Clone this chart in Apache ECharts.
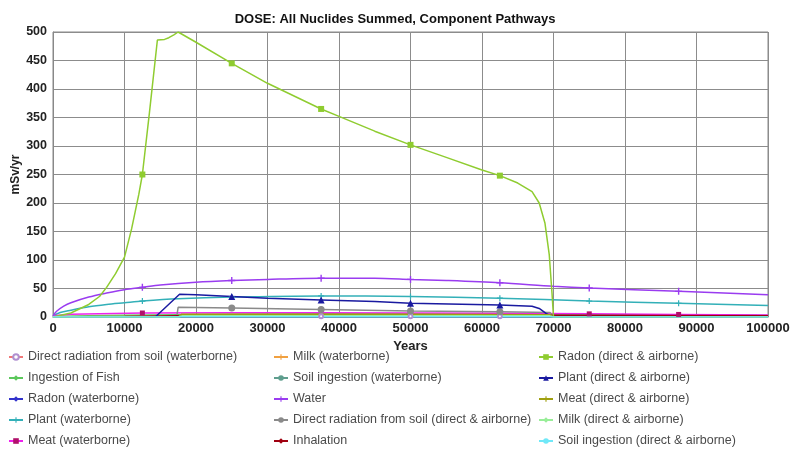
<!DOCTYPE html>
<html>
<head>
<meta charset="utf-8">
<script src="https://cdn.jsdelivr.net/npm/echarts@6/dist/echarts.min.js"></script>
<style>
  html, body { margin: 0; padding: 0; background: #fff; }
  #chart { width: 790px; height: 450px; }
</style>
</head>
<body>
<div id="chart"></div>
<script>
// years / mSv per yr
const drWaterX = [0, 25000, 37500, 50000, 62500, 75000, 100000];
const drWaterY = [0.3, 1, 1.1, 1.2, 1.1, 1, 0.8];
const fishX = [0, 5000, 10000, 17500, 25000, 37500, 50000, 62500, 70000, 100000];
const fishY = [1, 2, 3, 4, 5, 5.5, 5.5, 5, 4.5, 3];
const radonWaterX = [0, 50000, 100000];
const radonWaterY = [0.1, 0.3, 0.3];
const plantWaterX = [0, 1000, 2500, 5000, 7500, 10000, 12500, 17500, 25000, 37500, 50000, 62500, 75000, 87500, 100000];
const plantWaterY = [2, 8, 12, 18, 22, 25, 28, 32, 35, 37, 36, 33, 28, 24, 20];
const meatWaterX = [0, 2500, 12500, 25000, 37500, 50000, 62500, 75000, 87500, 100000];
const meatWaterY = [2, 5, 7, 7.5, 7.5, 7, 6.5, 5.5, 4.5, 3.5];
const milkWaterX = [0, 10000, 25000, 50000, 75000, 100000];
const milkWaterY = [0.5, 1, 1.5, 1.5, 1.2, 1];
const soilWaterX = [0, 50000, 100000];
const soilWaterY = [0.2, 0.5, 0.4];
const waterX = [0, 500, 1500, 2500, 5000, 7500, 10000, 12500, 15000, 20000, 25000, 30000, 37500, 45000, 50000, 55000, 62500, 70000, 75000, 87500, 100000];
const waterY = [2, 10, 19, 25, 35, 42, 48, 52, 56, 61, 64, 66, 68, 68, 66, 64, 60, 54, 51, 45, 39];
const drDirectX = [0, 17300, 17500, 25000, 37500, 50000, 62500, 69500, 70000, 100000];
const drDirectY = [0, 0, 17, 16, 13, 10.5, 9, 8, 0, 0];
const inhalX = [0, 10000, 20000, 50000, 70000, 100000];
const inhalY = [0.5, 1, 2.5, 3, 3, 2];
const radonDirectX = [0, 2500, 5000, 6500, 7500, 8750, 10000, 11000, 12000, 12500, 13500, 14600, 15600, 16200, 16900, 17500, 20000, 25000, 30000, 37500, 40000, 45000, 50000, 55000, 60000, 62500, 65000, 67000, 68000, 68800, 69400, 69800, 70000, 100000];
const radonDirectY = [0, 7, 22, 36, 52, 76, 105, 155, 215, 250, 360, 486, 487, 490, 495, 500, 482, 445, 410, 365, 352, 326, 302, 280, 258, 248, 235, 220, 200, 165, 110, 40, 0, 0];
const plantDirectX = [0, 14300, 17700, 20000, 25000, 30000, 37500, 45000, 50000, 62500, 67000, 68000, 69000, 70000, 100000];
const plantDirectY = [0, 0, 40, 39, 36, 33, 30, 27, 24, 21, 19, 15, 6, 0, 0];
const meatDirectX = [0, 17500, 18000, 50000, 69500, 70000, 100000];
const meatDirectY = [0, 0, 5, 5, 4, 0, 0];
const milkDirectX = [0, 17500, 18000, 69500, 70000, 100000];
const milkDirectY = [0, 0, 2, 2, 0, 0];
const soilDirectX = [0, 17500, 18000, 69500, 70000, 100000];
const soilDirectY = [0, 0, 0.5, 0.5, 0, 0];

const legendCol1 = ['Direct radiation from soil (waterborne)', 'Ingestion of Fish', 'Radon (waterborne)', 'Plant (waterborne)', 'Meat (waterborne)'];
const legendCol2 = ['Milk (waterborne)', 'Soil ingestion (waterborne)', 'Water', 'Direct radiation from soil (direct & airborne)', 'Inhalation'];
const legendCol3 = ['Radon (direct & airborne)', 'Plant (direct & airborne)', 'Meat (direct & airborne)', 'Milk (direct & airborne)', 'Soil ingestion (direct & airborne)'];

const plus = 'path://M4,0h2v4h4v2h-4v4h-2v-4h-4v-2h4z';
const quarterMarks = [12500, 25000, 37500, 50000, 62500, 75000, 87500];

function mkSeries(name, xs, ys, color, symbol, size, marks, opts) {
  marks = marks || [];
  opts = opts || {};
  return {
    name: name,
    type: 'line',
    smooth: opts.smooth || false,
    symbol: symbol,
    showAllSymbol: true,
    itemStyle: { color: opts.markColor || color },
    lineStyle: { width: 1.5, color: color },
    data: xs.map((x, i) => ({
      value: [x, ys[i]],
      symbolSize: marks.indexOf(x) >= 0 ? size : 0
    }))
  };
}

const series = [
  mkSeries(legendCol1[0], drWaterX, drWaterY, '#f07878', 'emptyCircle', 4, [37500, 50000, 62500], { markColor: '#b090d0' }),
  mkSeries(legendCol1[1], fishX, fishY, '#5cc85c', 'diamond', 4),
  mkSeries(legendCol1[2], radonWaterX, radonWaterY, '#3333cc', 'diamond', 4),
  mkSeries(legendCol1[3], plantWaterX, plantWaterY, '#33b0b8', plus, 6, quarterMarks, { smooth: 0.3 }),
  mkSeries(legendCol1[4], meatWaterX, meatWaterY, '#ee22ee', 'rect', 5, [12500, 75000, 87500], { markColor: '#b0106a' }),
  mkSeries(legendCol2[0], milkWaterX, milkWaterY, '#f0a040', plus, 6),
  mkSeries(legendCol2[1], soilWaterX, soilWaterY, '#5f9e8e', 'none', 0),
  mkSeries(legendCol2[2], waterX, waterY, '#9a3cf0', plus, 7, quarterMarks, { smooth: 0.3 }),
  mkSeries(legendCol2[3], drDirectX, drDirectY, '#8a8a8a', 'circle', 7, [25000, 37500, 50000, 62500]),
  mkSeries(legendCol2[4], inhalX, inhalY, '#a00010', 'diamond', 6),
  mkSeries(legendCol3[0], radonDirectX, radonDirectY, '#8fcc30', 'rect', 6, [12500, 25000, 37500, 50000, 62500]),
  mkSeries(legendCol3[1], plantDirectX, plantDirectY, '#1a1aa0', 'triangle', 7, [25000, 37500, 50000, 62500]),
  mkSeries(legendCol3[2], meatDirectX, meatDirectY, '#a0a010', plus, 6),
  mkSeries(legendCol3[3], milkDirectX, milkDirectY, '#99ee99', 'diamond', 6),
  mkSeries(legendCol3[4], soilDirectX, soilDirectY, '#70e8f8', 'none', 0)
];

const font = 'Liberation Sans, Arial, sans-serif';
const legendBase = {
  orient: 'vertical',
  top: 350,
  height: 100,
  padding: 0,
  itemGap: 7,
  itemWidth: 14,
  itemHeight: 7,
  selectedMode: false,
  textStyle: { fontFamily: font, fontSize: 12.5, lineHeight: 14, color: '#4a4a4a' }
};

const chart = echarts.init(document.getElementById('chart'), null, { renderer: 'canvas' });
chart.setOption({
  animation: false,
  backgroundColor: '#fff',
  title: {
    text: 'DOSE: All Nuclides Summed, Component Pathways',
    left: 'center',
    top: 8,
    textStyle: { fontFamily: font, fontSize: 13, fontWeight: 'bold', color: '#111' }
  },
  legend: [
    Object.assign({}, legendBase, { left: 8, data: legendCol1 }),
    Object.assign({}, legendBase, { left: 273, data: legendCol2 }),
    Object.assign({}, legendBase, { left: 538, data: legendCol3 })
  ],
  grid: {
    left: 53, right: 22, top: 32, bottom: 133,
    outerBoundsMode: 'none',
    containLabel: false,
    show: true, borderColor: '#888', borderWidth: 1
  },
  xAxis: {
    type: 'value',
    min: 0, max: 100000, interval: 10000,
    name: 'Years',
    nameLocation: 'middle',
    nameGap: 22,
    nameTextStyle: { fontFamily: font, fontSize: 13, fontWeight: 'bold', color: '#222' },
    axisLine: { lineStyle: { color: '#888' } },
    axisTick: { show: false },
    axisLabel: { fontFamily: font, fontSize: 13, fontWeight: 'bold', color: '#222', margin: 5, formatter: v => String(v) },
    splitLine: { show: true, lineStyle: { color: '#8c8c8c', width: 1 } }
  },
  yAxis: {
    type: 'value',
    min: 0, max: 500, interval: 50,
    name: 'mSv/yr',
    nameLocation: 'middle',
    nameGap: 31,
    nameMoveOverlap: false,
    nameTextStyle: { fontFamily: font, fontSize: 12, fontWeight: 'bold', color: '#222' },
    axisLine: { show: true, lineStyle: { color: '#888' } },
    axisTick: { show: false },
    axisLabel: { fontFamily: font, fontSize: 12.5, fontWeight: 'bold', color: '#222', margin: 6 },
    splitLine: { show: true, lineStyle: { color: '#8c8c8c', width: 1 } }
  },
  series: series
});
</script>
</body>
</html>
